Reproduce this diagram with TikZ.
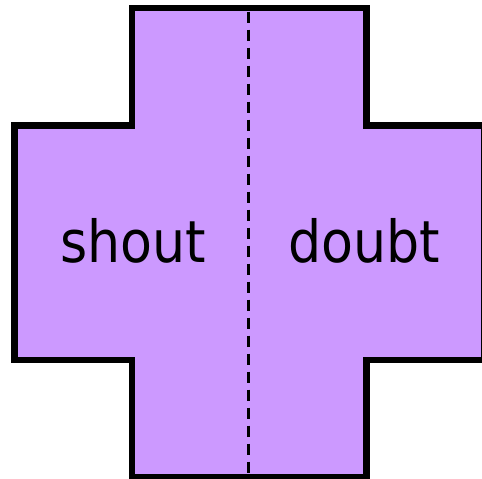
\documentclass[tikz,border=0pt]{standalone}
\usepackage{fontspec}
\setmainfont{DejaVu Sans Condensed}
\definecolor{crossfill}{HTML}{CC99FF}

\begin{document}
\begin{tikzpicture}[x=1pt, y=-1pt,
  outline/.style={draw=black, line width=6.5pt, fill=crossfill, line join=miter},
  fold/.style={draw=black, line width=3pt, dash pattern=on 11pt off 7pt},
  word/.style={font=\fontsize{58}{60}\selectfont, anchor=base, inner sep=0pt}
]
\clip (0,0) rectangle (482,479);
% Cross shape
\draw[outline] (132,8) -- (366.5,8) -- (366.5,125.5) -- (484,125.5) -- (484,360)
  -- (366.5,360) -- (366.5,477) -- (132,477) -- (132,360) -- (14.5,360)
  -- (14.5,125.5) -- (132,125.5) -- cycle;
% Fold line
\coordinate (foldtop) at (248,11.5);
\coordinate (foldbot) at (248,474);
\draw[fold] (foldtop) -- (foldbot);
% Words
\node[word] (shout) at (133.5,262) {shout};
\node[word] (doubt) at (364.5,262) {doubt};
\end{tikzpicture}
\end{document}
